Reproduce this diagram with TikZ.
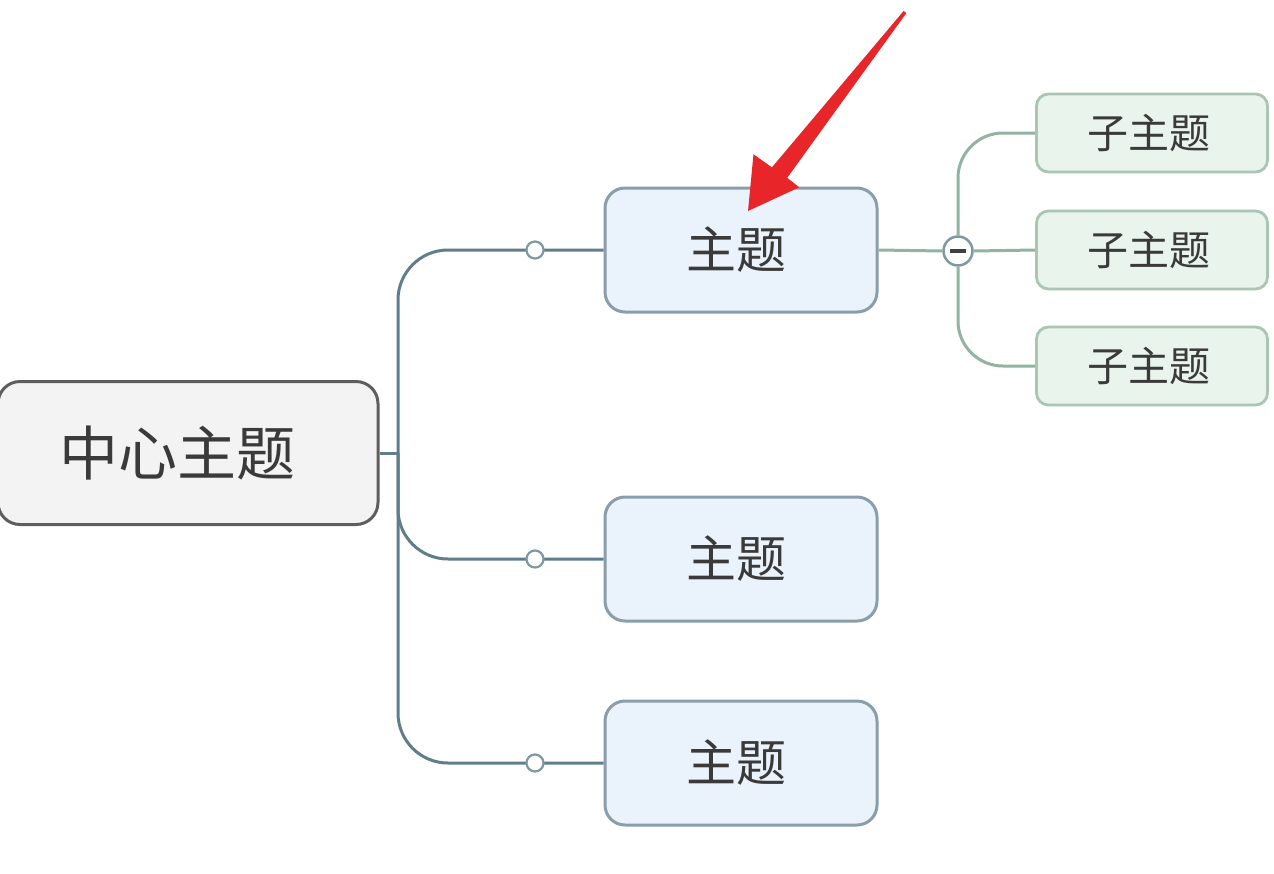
\documentclass[tikz,border=0pt]{standalone}
\usepackage{fontspec}
\newfontfamily\cjk{Noto Sans CJK SC}
\definecolor{txt}{HTML}{3A3A3A}
\definecolor{cfill}{HTML}{F3F3F3}
\definecolor{cdraw}{HTML}{5E5E5E}
\definecolor{tfill}{HTML}{EAF2FB}
\definecolor{tdraw}{HTML}{8A9DAA}
\definecolor{sfill}{HTML}{E9F4ED}
\definecolor{sdraw}{HTML}{A9C6B3}
\definecolor{conncol}{HTML}{5F7E8A}
\definecolor{subcol}{HTML}{93B3A2}
\definecolor{arrowred}{HTML}{E8262A}
\tikzset{
  central/.style={draw=cdraw, fill=cfill, line width=3pt, rounded corners=22pt,
    minimum width=380pt, minimum height=143pt, text=txt,
    font=\cjk\fontsize{59}{62}\selectfont},
  topicbox/.style={draw=tdraw, fill=tfill, line width=3pt, rounded corners=20pt,
    minimum width=272pt, minimum height=124pt, text=txt,
    font=\cjk\fontsize{50}{53}\selectfont},
  subbox/.style={draw=sdraw, fill=sfill, line width=2.8pt, rounded corners=12pt,
    minimum width=231pt, minimum height=78pt, text=txt,
    font=\cjk\fontsize{41}{44}\selectfont},
  conn/.style={draw=conncol, line width=3pt},
  subconn/.style={draw=subcol, line width=3pt},
  knob/.style={circle, draw=conncol!80, fill=white, line width=2.2pt, minimum size=17pt, inner sep=0pt},
  minusknob/.style={circle, draw=conncol!80, fill=white, line width=2.5pt, minimum size=29pt, inner sep=0pt},
}
\begin{document}
\begin{tikzpicture}[x=1pt, y=-1pt]
\useasboundingbox[fill=white] (0,0) rectangle (1274,873);

% nodes
\node[central] (c) at (188,453) {\hspace*{-22pt}中心主题};
\node[topicbox] (t1) at (741,250) {\hspace*{-10pt}主题};
\node[topicbox] (t2) at (741,559) {\hspace*{-10pt}主题};
\node[topicbox] (t3) at (741,763) {\hspace*{-10pt}主题};
\node[subbox] (s1) at (1152,133) {\hspace*{-6pt}子主题};
\node[subbox] (s2) at (1152,250) {\hspace*{-6pt}子主题};
\node[subbox] (s3) at (1152,366) {\hspace*{-6pt}子主题};
\coordinate (j) at (398,453);

% main connectors
\draw[conn] (c.east) -- (j);
\draw[conn, rounded corners=50pt] (j) |- (t1.west);
\draw[conn, rounded corners=50pt] (j) |- (t2.west);
\draw[conn, rounded corners=50pt] (j) |- (t3.west);

\node[knob] (k1) at (535,250) {};
\node[knob] (k2) at (535,559) {};
\node[knob] (k3) at (535,763) {};

% sub connectors
\node[minusknob] (m) at (958,251) {};
\draw[subconn] (t1.east) -- (m.west);
\draw[subconn, rounded corners=45pt] (m.north) |- (s1.west);
\draw[subconn] (m.east) -- (s2.west);
\draw[subconn, rounded corners=45pt] (m.south) |- (s3.west);
\draw[black!75, line width=3.5pt] ([xshift=-8pt]m.center) -- ([xshift=8pt]m.center);

% red arrow
\coordinate (tail) at (905,12);
\coordinate (tip) at (748,211);
\fill[arrowred]
  (906.4,13.0) -- (787.2,177.8) -- (799.2,187.3) -- (tip)
  -- (753.5,154.2) -- (771.9,167.4) -- (903.6,11.0) -- cycle;
\end{tikzpicture}
\end{document}
